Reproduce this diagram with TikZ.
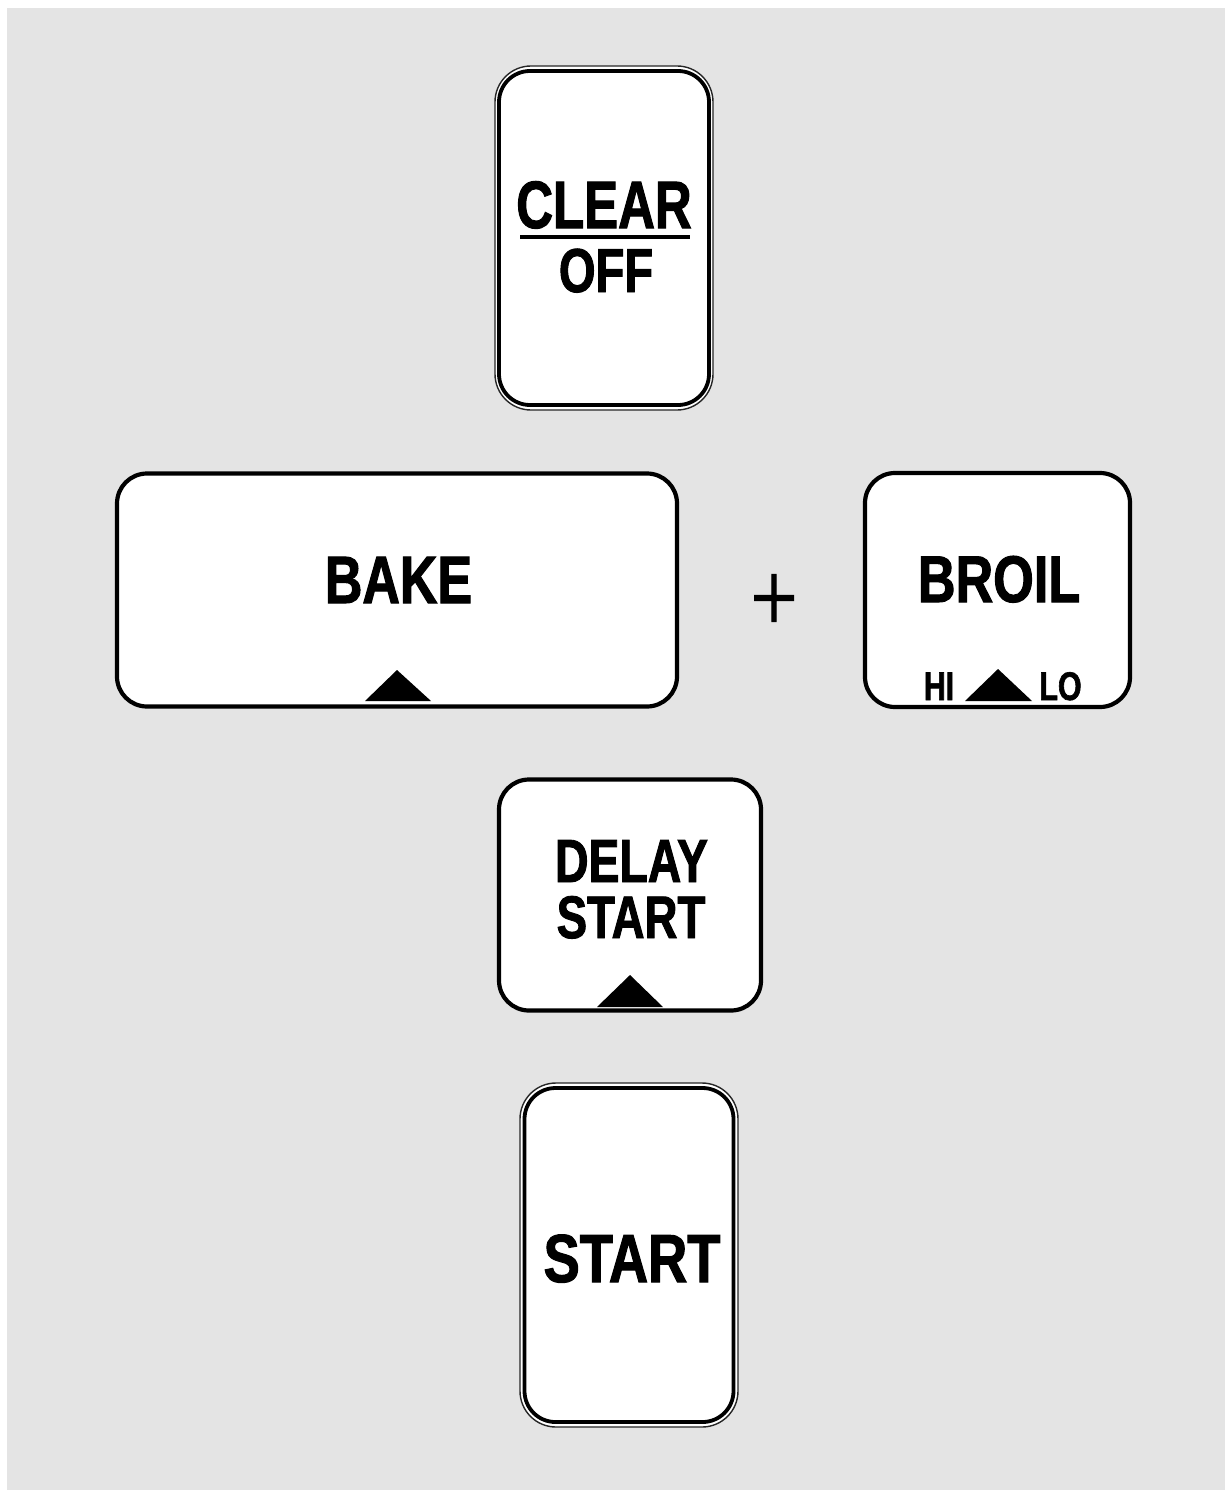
\documentclass[tikz,border=0pt]{standalone}
\usepackage{fontspec}
\newfontfamily\cond[FakeStretch=0.76,FakeBold=1.5]{Liberation Sans}
\newfontfamily\plainserif[FakeBold=1.2]{Liberation Serif}
\definecolor{panelgray}{HTML}{E4E4E4}
\tikzset{
  keybox/.style={draw=black, line width=4.2pt, fill=white, rounded corners=30pt, inner sep=0pt},
  keyouter/.style={draw=black!85, line width=1.4pt, fill=white, rounded corners=36pt, inner sep=0pt},
  keyinner/.style={draw=black, line width=3.8pt, rounded corners=31pt, inner sep=0pt},
  lbl/.style={inner sep=0pt, anchor=base, font=\cond\bfseries},
  marker/.style={fill=black, draw=none}
}
\begin{document}
\begin{tikzpicture}[x=1pt,y=-1pt]
\useasboundingbox (0,0) rectangle (1225,1490);
\fill[white] (0,0) rectangle (1225,1490);
\fill[panelgray] (7,8) rectangle (1225,1490);

% CLEAR / OFF
\node[keyouter, minimum width=218pt, minimum height=344pt] (clearout) at (604,238) {};
\node[keyinner, minimum width=210pt, minimum height=334pt] (clearin) at (604,238) {};
\node[lbl, font=\cond\bfseries\fontsize{67}{67}\selectfont] (clear) at (604,228) {CLEAR};
\node[lbl, font=\cond\bfseries\fontsize{62}{62}\selectfont] (off) at (606,292) {OFF};
\coordinate (ulA) at (520,237);
\coordinate (ulB) at (690,237);
\draw[line width=4pt] (ulA) -- (ulB);

% BAKE
\node[keybox, minimum width=560pt, minimum height=233pt] (bakebox) at (397,590) {};
\node[lbl, font=\cond\bfseries\fontsize{67}{67}\selectfont] (bake) at (398.5,603) {\scalebox{1.02}[1]{BAKE}};
\coordinate (bt1) at (397,670);
\coordinate (bt2) at (431,701);
\coordinate (bt3) at (365,701);
\fill[marker] (bt1) -- (bt2) -- (bt3) -- cycle;

% plus
\node[inner sep=0pt, font=\plainserif\fontsize{84}{84}\selectfont] (plus) at (774,603) {\scalebox{1}[1.2]{+}};

% BROIL
\node[keybox, minimum width=265pt, minimum height=234pt] (broilbox) at (997.5,590) {};
\node[lbl, font=\cond\bfseries\fontsize{66}{66}\selectfont] (broil) at (999,602) {\scalebox{1.04}[1]{BROIL}};
\node[lbl, font=\cond\bfseries\fontsize{40}{40}\selectfont] (hi) at (939,700) {HI};
\node[lbl, font=\cond\bfseries\fontsize{40}{40}\selectfont] (lo) at (1060.5,700) {LO};
\coordinate (rt1) at (998,669);
\coordinate (rt2) at (1032,701);
\coordinate (rt3) at (965,701);
\fill[marker] (rt1) -- (rt2) -- (rt3) -- cycle;

% DELAY START
\node[keybox, minimum width=262pt, minimum height=231pt] (delaybox) at (630,895) {};
\node[lbl, font=\cond\bfseries\fontsize{61}{61}\selectfont] (delay) at (631.5,882) {DELAY};
\node[lbl, font=\cond\bfseries\fontsize{60}{60}\selectfont] (dstart) at (631,938) {START};
\coordinate (dt1) at (630,975);
\coordinate (dt2) at (663,1007);
\coordinate (dt3) at (597,1007);
\fill[marker] (dt1) -- (dt2) -- (dt3) -- cycle;

% START
\node[keyouter, minimum width=218pt, minimum height=344pt] (startout) at (629,1255) {};
\node[keyinner, minimum width=209pt, minimum height=334pt] (startin) at (629,1255) {};
\node[lbl, font=\cond\bfseries\fontsize{68}{68}\selectfont] (start) at (632,1282) {\scalebox{1.05}[1]{START}};
\end{tikzpicture}
\end{document}
